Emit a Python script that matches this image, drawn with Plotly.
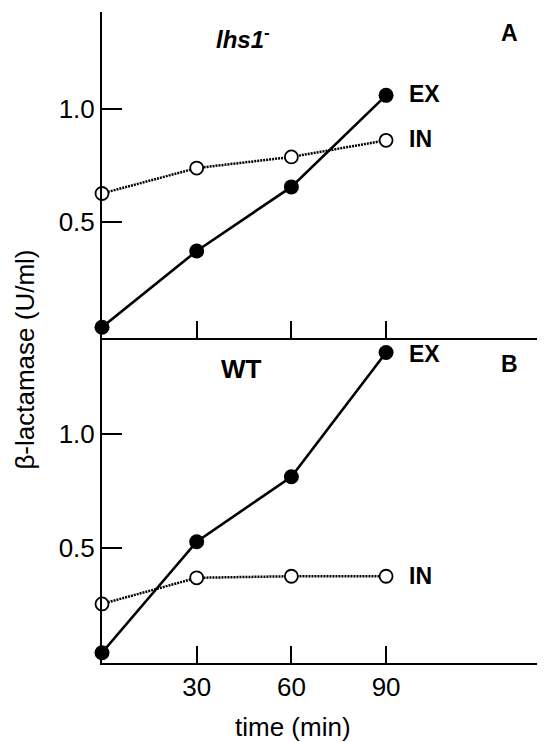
import plotly.graph_objects as go

# ---- data ----
time_min = [0, 30, 60, 90]
a_ex = [0.037, 0.373, 0.655, 1.058]
a_in = [0.626, 0.738, 0.787, 0.860]
b_ex = [0.037, 0.526, 0.812, 1.359]
b_in = [0.252, 0.367, 0.374, 0.374]
x_tickvals = [30, 60, 90]
x_ticktext = ["30", "60", "90"]
y_tickvals = [0.5, 1.0]
y_ticktext = ["0.5", "1.0"]

FONT = "Liberation Sans, Arial, Helvetica, sans-serif"

# page body has an 8px default margin; compensate
OFF = 8
L, T, B = 93.5, 4, 79
W_FIG, H_FIG = 545 - OFF, 742 - OFF
PW = W_FIG - L          # plot width in px
PH = H_FIG - T - B      # plot height in px
BOTTOM = OFF + H_FIG - B  # page y of bottom axis
LEFT = OFF + L

fig = go.Figure()

def add_series(y, xa, ya, filled):
    if filled:
        fig.add_trace(go.Scatter(
            x=time_min, y=y, xaxis=xa, yaxis=ya, mode="lines+markers",
            line=dict(color="black", width=2.6),
            marker=dict(symbol="circle", size=15, color="black",
                        line=dict(color="black", width=0)),
            showlegend=False, cliponaxis=False))
    else:
        fig.add_trace(go.Scatter(
            x=time_min, y=y, xaxis=xa, yaxis=ya, mode="lines+markers",
            line=dict(color="black", width=2.5, dash="2px,1px"),
            marker=dict(symbol="circle", size=13, color="white",
                        line=dict(color="black", width=1.8)),
            showlegend=False, cliponaxis=False))

# Panel A (top)
add_series(a_in, "x", "y", False)
add_series(a_ex, "x", "y", True)
# Panel B (bottom)
add_series(b_in, "x2", "y2", False)
add_series(b_ex, "x2", "y2", True)

xr = [0, PW / 3.16]
yr = [-0.008, 1.425]

axis_common = dict(showgrid=False, zeroline=False, showline=True,
                   linecolor="black", linewidth=2, ticks="inside",
                   tickcolor="black", tickwidth=2,
                   tickfont=dict(family=FONT, size=26, color="black"))

fig.update_layout(
    width=W_FIG, height=H_FIG,
    margin=dict(l=L, r=0, t=T, b=B, pad=0),
    paper_bgcolor="white", plot_bgcolor="white",
    xaxis=dict(domain=[0, 1], anchor="y", range=xr, tickvals=x_tickvals,
               ticktext=x_ticktext, showticklabels=False, ticklen=17,
               **axis_common),
    yaxis=dict(domain=[0.5, 1], anchor="x", range=yr, tickvals=y_tickvals,
               ticktext=y_ticktext, ticklen=20, **axis_common),
    xaxis2=dict(domain=[0, 1], anchor="y2", range=xr, tickvals=x_tickvals,
                ticktext=x_ticktext, ticklen=17, ticklabelstandoff=0,
                **axis_common),
    yaxis2=dict(domain=[0, 0.5], anchor="x2", range=yr, tickvals=y_tickvals,
                ticktext=y_ticktext, ticklen=20, **axis_common),
)

def txt(text, x, y, xref, yref, size, xanchor="left"):
    fig.add_annotation(text=text, x=x, y=y, xref=xref, yref=yref,
                       showarrow=False, xanchor=xanchor, yanchor="middle",
                       font=dict(family=FONT, size=size, color="black"))

# Panel A labels
txt("<b><i>lhs1</i></b><sup><b>-</b></sup>", 35.6, 1.31, "x", "y", 24)
txt("<b>A</b>", 129, 1.332, "x", "y", 23, "center")
txt("<b>EX</b>", 96.6, 1.066, "x", "y", 23)
txt("<b>IN</b>", 96.6, 0.868, "x", "y", 23)
# Panel B labels
txt("<b>WT</b>", 37, 1.285, "x2", "y2", 26)
txt("<b>B</b>", 129, 1.307, "x2", "y2", 23, "center")
txt("<b>EX</b>", 96.6, 1.351, "x2", "y2", 23)
txt("<b>IN</b>", 96.6, 0.374, "x2", "y2", 23)

# Axis titles (page pixel targets converted to paper coords)
fig.add_annotation(text="time (min)", x=(292.5 - LEFT) / PW,
                   y=(BOTTOM - 726.7) / PH, xref="paper", yref="paper",
                   showarrow=False, xanchor="center", yanchor="middle",
                   font=dict(family=FONT, size=26, color="black"))
fig.add_annotation(text="β-lactamase (U/ml)", x=(24 - LEFT) / PW,
                   y=(BOTTOM - 360) / PH, xref="paper", yref="paper",
                   showarrow=False, xanchor="center", yanchor="middle",
                   textangle=-90,
                   font=dict(family=FONT, size=26, color="black"))

fig.write_html("out.html")
